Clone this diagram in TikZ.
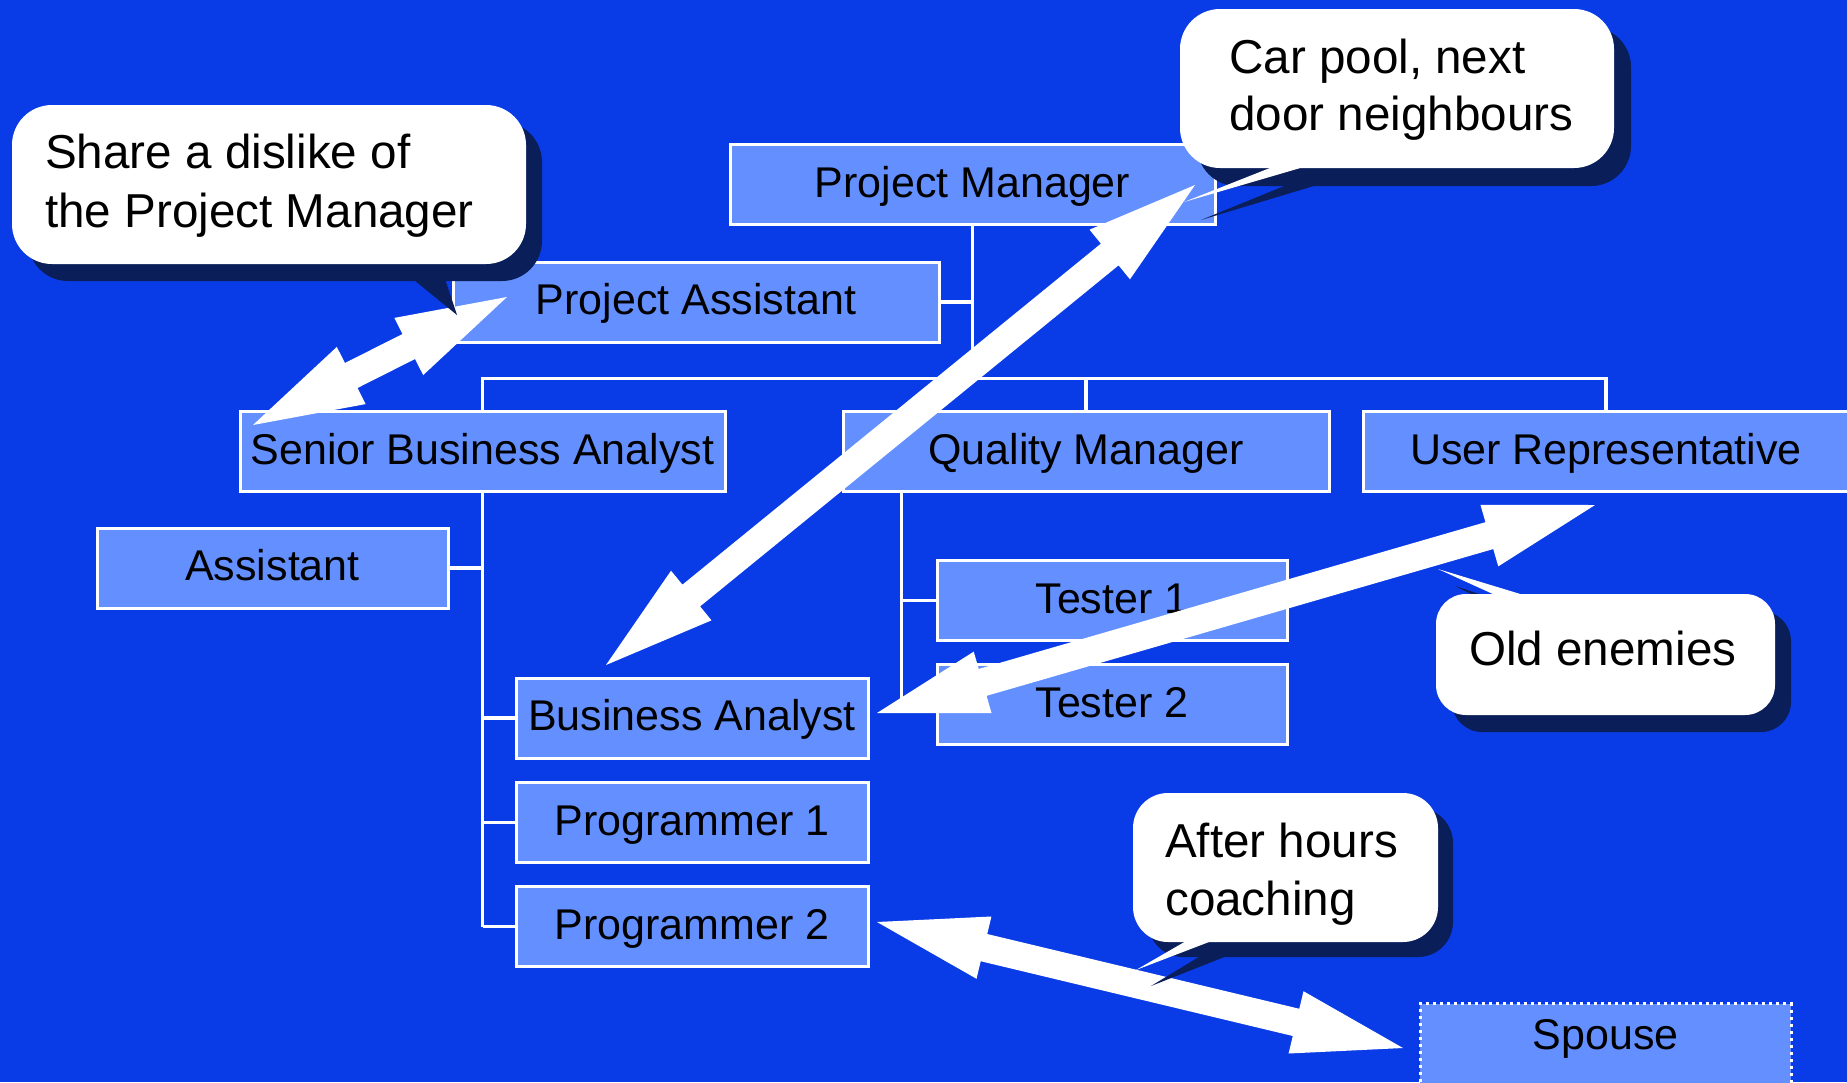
\documentclass[tikz,border=0pt]{standalone}
\usepackage{fontspec}
\setmainfont{Liberation Sans}
\usetikzlibrary{calc}

\definecolor{bgblue}{RGB}{9,60,230}
\definecolor{boxblue}{RGB}{99,143,255}
\definecolor{navyshadow}{RGB}{10,30,90}

% Block arrow with a head at each of two named points:
% head length 110, head half-width 32, shaft half-width 14
\newcommand\twoway[2]{%
  \fill[relarrow] (#1)
    -- ($(#1)!114.55pt!16.23:(#2)$)
    -- ($(#1)!110.89pt!7.25:(#2)$)
    -- ($(#2)!110.89pt!-7.25:(#1)$)
    -- ($(#2)!114.55pt!-16.23:(#1)$)
    -- (#2)
    -- ($(#2)!114.55pt!16.23:(#1)$)
    -- ($(#2)!110.89pt!7.25:(#1)$)
    -- ($(#1)!110.89pt!-7.25:(#2)$)
    -- ($(#1)!114.55pt!-16.23:(#2)$)
    -- cycle;}

\begin{document}
\begin{tikzpicture}[x=1pt,y=-1pt,
  orgbox/.style={draw=white, line width=3pt, fill=boxblue, minimum height=80pt,
    inner sep=0pt, text height=31pt, text depth=6pt,
    font=\fontsize{43}{52}\selectfont},
  link/.style={draw=white, line width=3.3pt},
  relarrow/.style={fill=white},
  bubble/.style={fill=white},
  bubbleshadow/.style={fill=navyshadow},
  bubbletext/.style={anchor=base west, inner sep=0pt,
    font=\fontsize{47.6}{58}\selectfont}]

\useasboundingbox (0,0) rectangle (1847,1082);
\fill[bgblue] (0,0) rectangle (1847,1082);
\clip (0,0) rectangle (1847,1082);

% organisation chart
\node[orgbox, minimum width=485pt] (pm)   at (972.5,184.5) {Project Manager};
\node[orgbox, minimum width=486pt] (pa)   at (696,302)     {Project Assistant};
\node[orgbox, minimum width=485pt] (sba)  at (482.5,451.5) {Senior Business Analyst};
\node[orgbox, minimum width=486pt] (qm)   at (1086,451.5)  {Quality Manager};
\node[orgbox, minimum width=486pt] (ur)   at (1606,451.5)  {User Representative};
\node[orgbox, minimum width=351pt] (asst) at (272.5,568)   {Assistant};
\node[orgbox, minimum width=350pt] (t1)   at (1112,600.5)  {Tester 1};
\node[orgbox, minimum width=350pt] (t2)   at (1112,704.5)  {Tester 2};
\node[orgbox, minimum width=352pt] (ba)   at (692,718)     {Business Analyst};
\node[orgbox, minimum width=352pt] (p1)   at (692,822.5)   {Programmer 1};
\node[orgbox, minimum width=352pt] (p2)   at (692,926.5)   {Programmer 2};
\node[orgbox, minimum width=371pt, minimum height=100pt, text depth=39pt,
      anchor=north, dash pattern=on 3pt off 4pt] (spouse) at (1605.5,1002) {Spouse};

% reporting lines
\coordinate (bus) at ($(pm.south)+(0,152.5)$);
\draw[link] (pm.south) -- (bus);
\draw[link] (pa.east) -- (pa.east -| bus);
\draw[link] (sba.north) |- (bus) -| (ur.north);
\draw[link] (qm.north) -- (qm.north |- bus);
\draw[link] (sba.south) -- (sba.south |- p2.west);
\foreach \n in {asst.east, ba.west, p1.west, p2.west}
  \draw[link] (\n) -- (\n -| sba.south);
\coordinate (qmdrop) at ($(qm.south west)+(60,0)$);
\draw[link] (qmdrop) -- (qmdrop |- t2.west);
\foreach \n in {t1.west, t2.west}
  \draw[link] (\n) -- (\n -| qmdrop);

% informal relationships
\coordinate (aS) at (253,425);   \coordinate (aP) at (507,297);
\coordinate (bB) at (606,665);   \coordinate (bM) at (1195,185);
\coordinate (cB) at (877,713);   \coordinate (cU) at (1595,505);
\coordinate (dP) at (877,922);   \coordinate (dS) at (1403,1048);
\twoway{aS}{aP}
\twoway{bB}{bM}
\twoway{cB}{cU}
\twoway{dP}{dS}

% speech bubbles
\fill[bubbleshadow, rounded corners=40] (28,122) rectangle (542,281);
\fill[bubbleshadow] (398,267) -- (441,267) -- (457,315) -- cycle;
\fill[bubble, rounded corners=40] (12,105) rectangle (526,264);
\node[bubbletext] (c1a) at (45,168) {Share a dislike of};
\node[bubbletext] (c1b) at (45,227) {the Project Manager};

\fill[bubbleshadow, rounded corners=40] (1197,27) rectangle (1631,186);
\fill[bubbleshadow] (1294,182) -- (1201,220) -- (1327,182) -- cycle;
\fill[bubble, rounded corners=40] (1180,9) rectangle (1614,168);
\fill[bubble] (1280,164) -- (1184,202) -- (1314,164) -- cycle;
\node[bubbletext] (c2a) at (1229,73)  {Car pool, next};
\node[bubbletext] (c2b) at (1229,130) {door neighbours};

\fill[bubbleshadow, rounded corners=30] (1452,611) rectangle (1791,732);
\fill[bubbleshadow] (1520,618) -- (1455,586) -- (1552,618) -- cycle;
\fill[bubble, rounded corners=30] (1436,594) rectangle (1775,715);
\fill[bubble] (1506,600) -- (1438,569) -- (1540,600) -- cycle;
\node[bubbletext] (c3) at (1469,665) {Old enemies};

\fill[bubbleshadow, rounded corners=35] (1148,808) rectangle (1453,957);
\fill[bubbleshadow] (1207,952) -- (1151,986) -- (1237,952) -- cycle;
\fill[bubble, rounded corners=35] (1133,793) rectangle (1438,942);
\fill[bubble] (1193,937) -- (1136,970) -- (1222,937) -- cycle;
\node[bubbletext] (c4a) at (1165,857) {After hours};
\node[bubbletext] (c4b) at (1165,915) {coaching};

\end{tikzpicture}
\end{document}
